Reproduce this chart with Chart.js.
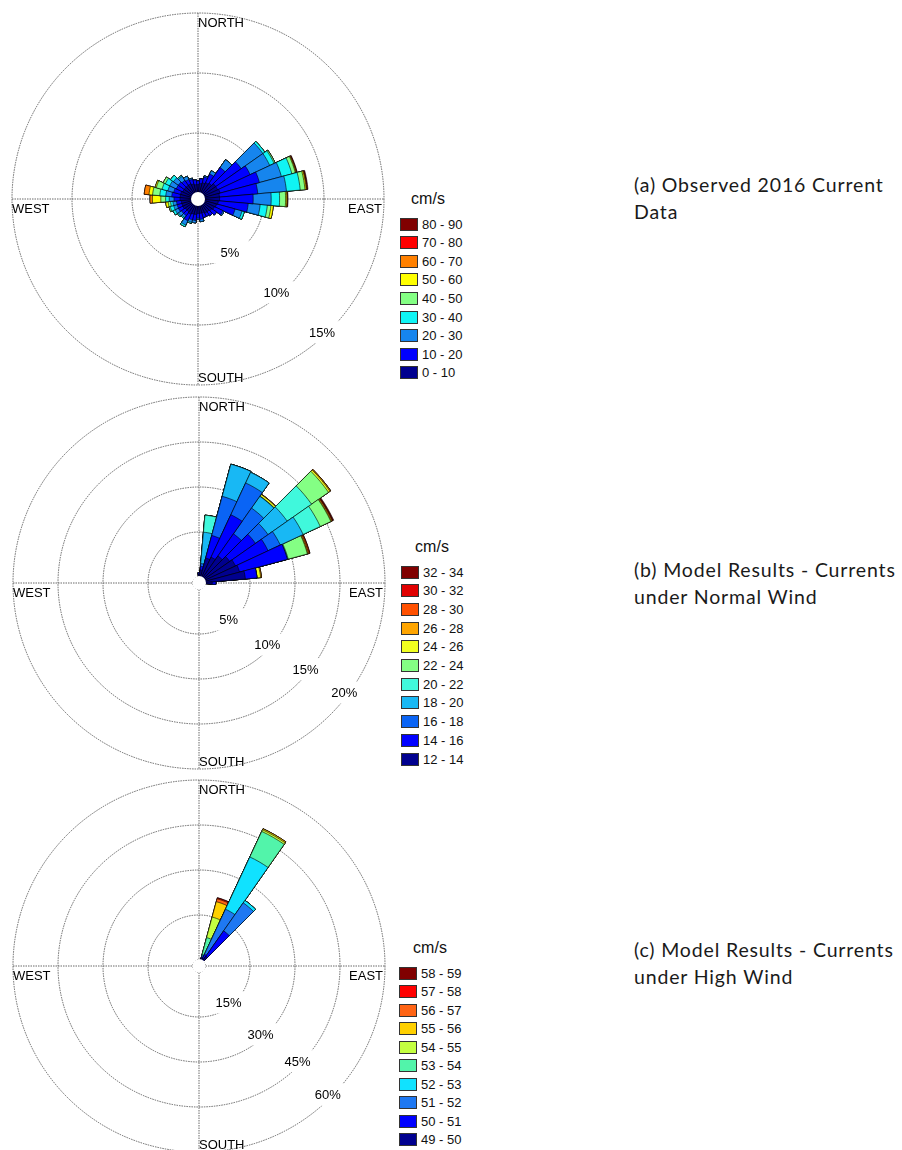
<!DOCTYPE html>
<html>
<head>
<meta charset="utf-8">
<script src="https://cdn.jsdelivr.net/npm/chart.js@4.4.1/dist/chart.umd.min.js"></script>
<style>
    body { margin: 0; background: #fff; width: 902px; height: 1150px; position: relative; overflow: hidden;
           font-family: "Liberation Sans", Arial, sans-serif; }
    .rose { position: absolute; width: 390px; height: 390px; }
    .unit { position: absolute; font-size: 16px; color: #111; transform: translate(-50%, -50%); }
    .row { position: absolute; height: 14px; display: flex; align-items: center; font-size: 13px; color: #111;
           transform: translateY(-50%); white-space: nowrap; }
    .sw { width: 16px; height: 11px; border: 1px solid #333; margin-right: 4px; }
    .caption { position: absolute; left: 634px; font-family: Lato, "Open Sans", sans-serif; font-size: 19.5px;
               letter-spacing: 0.85px; line-height: 27px; color: #1a1a1a; white-space: nowrap; }
</style>
</head>
<body>

<canvas id="roseA" class="rose" width="390" height="390" style="left:3px;top:4px"></canvas>
<canvas id="roseB" class="rose" width="390" height="390" style="left:4px;top:388px"></canvas>
<canvas id="roseC" class="rose" width="390" height="390" style="left:4px;top:771px"></canvas>

<div class="caption" style="top:171px">(a) Observed 2016 Current<br>Data</div>
<div class="caption" style="top:556px">(b) Model Results - Currents<br>under Normal Wind</div>
<div class="caption" style="top:936px">(c) Model Results - Currents<br>under High Wind</div>

<script>
// direction bins (10 degree sectors, clockwise from north)
const directionLabels = ['0°', '10°', '20°', '30°', '40°', '50°', '60°', '70°', '80°', '90°',
    '100°', '110°', '120°', '130°', '140°', '150°', '160°', '170°', '180°', '190°',
    '200°', '210°', '220°', '230°', '240°', '250°', '260°', '270°', '280°', '290°',
    '300°', '310°', '320°', '330°', '340°', '350°'];

// (a) observed 2016 - % of time per direction, split by speed class (slow -> fast)
const obsClasses = ['0 - 10', '10 - 20', '20 - 30', '30 - 40', '40 - 50', '50 - 60', '60 - 70', '70 - 80', '80 - 90'];
const obsColors = ['#00008f', '#0000ff', '#1685ee', '#10f4f4', '#84ff84', '#ffff00', '#ff8000', '#ff0000', '#800000'];
const obsRings = [5, 10, 15];
const obsRows = [
    [0.7, 0.3], [0.8, 0.4], [0.9, 0.5, 0.1], [1.0, 0.8, 0.3], [1.1, 1.6, 0.8],
    [1.3, 2.6, 2.2, 0.2], [1.3, 3.0, 1.8, 0.4, 0.1],
    [1.4, 3.4, 1.9, 0.9, 0.3, 0.05, 0.05, 0.02, 0.05],
    [1.3, 3.2, 2.4, 1.15, 0.4, 0.1, 0.05, 0.03, 0.07],
    [1.3, 2.8, 1.5, 0.7, 0.5, 0.1, 0.05, 0.02, 0.03],
    [1.2, 2.5, 1.0, 0.6, 0.3, 0.2], [1.1, 1.6, 0.6, 0.2], [1.0, 0.8, 0.1],
    [0.9, 0.5], [0.8, 0.4], [0.8, 0.3], [0.7, 0.4], [0.7, 0.5, 0.2], [0.7, 0.4, 0.1],
    [0.8, 0.5, 0.2], [0.8, 0.5, 0.2, 0.1], [0.9, 0.6, 0.4, 0.15], [0.8, 0.4, 0.2, 0.1],
    [0.8, 0.4, 0.3, 0.1], [0.9, 0.4, 0.3, 0.2], [0.9, 0.4, 0.3, 0.3, 0.1],
    [0.9, 0.4, 0.3, 0.2, 0.2, 0.2], [1.0, 0.5, 0.4, 0.3, 0.4, 0.7, 0.2],
    [1.0, 0.7, 0.5, 0.5, 0.6, 0.3, 0.4], [1.0, 0.6, 0.5, 0.5, 0.5, 0.1],
    [0.9, 0.6, 0.6, 0.4, 0.2], [0.9, 0.6, 0.5, 0.3], [0.9, 0.5, 0.4, 0.1],
    [0.9, 0.4, 0.3], [0.8, 0.4, 0.1], [0.7, 0.4]
];

// (b) model, normal wind
const normClasses = ['12 - 14', '14 - 16', '16 - 18', '18 - 20', '20 - 22', '22 - 24', '24 - 26', '26 - 28', '28 - 30', '30 - 32', '32 - 34'];
const normColors = ['#00008f', '#0000ff', '#0a64f5', '#18b8f4', '#40f8dc', '#84ff84', '#f0ff20', '#ffa500', '#ff5000', '#e00000', '#800000'];
const normRings = [5, 10, 15, 20];
const normRows = [
    [0.3, 0.2], [0.8, 0.4, 0.3, 3.5, 1.9], [2.2, 2.6, 4.5, 3.7], [2.5, 5.2, 3.9, 1.3],
    [3.0, 3.0, 3.5, 1.6, 0, 0.05, 0.2, 0.05],
    [3.5, 3.5, 1.7, 2.6, 3.3, 2.3, 0.2, 0.1],
    [3.8, 4.0, 1.5, 2.8, 2.1, 1.3, 0.05, 0.1, 0.05, 0.05, 0.1],
    [4.0, 5.5, 0, 0, 0.1, 2.2, 0.05, 0.1, 0.1, 0.05],
    [4.5, 1.3, 0, 0, 0, 0, 0.4, 0.1],
    [0.8, 0.4],
    [], [], [], [], [], [], [], [], [], [], [], [], [], [], [], [], [], [], [], [], [], [], [], [], [], []
];

// (c) model, high wind
const highClasses = ['49 - 50', '50 - 51', '51 - 52', '52 - 53', '53 - 54', '54 - 55', '55 - 56', '56 - 57', '57 - 58', '58 - 59'];
const highColors = ['#00008f', '#0000ff', '#1e78f2', '#10e2ff', '#52f4aa', '#c4ff40', '#ffd000', '#ff6414', '#ff0000', '#800000'];
const highRings = [15, 30, 45, 60];
const highRows = [
    [], [],
    [0.5, 0.5, 0.5, 0.4, 5.9, 7.1, 5.3, 1.0, 0.3, 0.1],
    [0.8, 1.5, 16.6, 19.2, 9.4, 0.6, 0.4],
    [2.0, 10.3, 11.4, 1.0],
    [], [], [], [], [], [], [], [], [], [], [], [], [], [], [], [], [], [], [], [], [], [], [], [], [], [], [], [], [], [], []
];

const panels = [
    { id: 'roseA', classes: obsClasses, colors: obsColors, rows: obsRows, rings: obsRings, min: -0.5,
      labelAngles: [149, 140, 137], legend: { x: 400, unitX: 428, unitY: 199, rowY: 224, step: 18.6 } },
    { id: 'roseB', classes: normClasses, colors: normColors, rows: normRows, rings: normRings, min: -2 / 3,
      labelAngles: [141, 132, 129, 127], legend: { x: 401, unitX: 432, unitY: 547, rowY: 572, step: 18.7 } },
    { id: 'roseC', classes: highClasses, colors: highColors, rows: highRows, rings: highRings, min: -2,
      labelAngles: [141, 138, 134, 135], legend: { x: 399, unitX: 430, unitY: 948, rowY: 973, step: 18.5 } }
];

// grid cross, compass words, ring labels and the empty centre
const roseDecor = {
    id: 'roseDecor',
    beforeDatasetsDraw(chart, args, opts) {
        const s = chart.scales.r;
        const ctx = chart.ctx;
        const cx = s.xCenter, cy = s.yCenter, R = s.drawingArea;
        ctx.save();
        ctx.strokeStyle = '#444';
        ctx.lineWidth = 0.8;
        ctx.setLineDash([1.5, 1]);
        ctx.beginPath();
        ctx.moveTo(cx - R, cy); ctx.lineTo(cx + R, cy);
        ctx.moveTo(cx, cy - R); ctx.lineTo(cx, cy + R);
        ctx.stroke();
        ctx.setLineDash([]);

        ctx.font = '13px "Liberation Sans", Arial, sans-serif';
        ctx.fillStyle = '#000';
        ctx.textBaseline = 'alphabetic';
        ctx.textAlign = 'left';
        ctx.fillText('NORTH', cx, cy - R + 14);
        ctx.fillText('SOUTH', cx, cy + R - 3);
        ctx.fillText('WEST', cx - R, cy + 14);
        ctx.textAlign = 'right';
        ctx.fillText('EAST', cx + R - 2, cy + 14);

        ctx.textAlign = 'center';
        ctx.textBaseline = 'middle';
        opts.rings.forEach((v, i) => {
            const a = opts.labelAngles[i] * Math.PI / 180;
            const d = s.getDistanceFromCenterForValue(v) - 4;
            const x = cx + d * Math.sin(a);
            const y = cy - d * Math.cos(a);
            const txt = v + '%';
            const w = ctx.measureText(txt).width;
            ctx.fillStyle = '#fff';
            ctx.fillRect(x - w / 2 - 10, y - 11, w + 20, 22);
            ctx.fillStyle = '#000';
            ctx.fillText(txt, x, y + 1);
        });
        ctx.restore();
    },
    afterDatasetsDraw(chart) {
        const s = chart.scales.r;
        const ctx = chart.ctx;
        ctx.save();
        ctx.fillStyle = '#fff';
        ctx.beginPath();
        ctx.arc(s.xCenter, s.yCenter, s.getDistanceFromCenterForValue(0) + 1, 0, Math.PI * 2);
        ctx.fill();
        ctx.restore();
    }
};

function cumulative(rows, k) {
    return rows.map(r => r.slice(0, k + 1).reduce((a, b) => a + b, 0));
}

function showRose(p) {
    const ctx = document.getElementById(p.id);

    // one dataset per speed class, each holding the running total, slowest drawn on top
    const datasets = p.classes.map((name, k) => ({
        label: name,
        data: cumulative(p.rows, k),
        backgroundColor: p.colors[k],
        borderColor: '#000',
        borderWidth: 0.6
    }));

    const options = {
        responsive: false,
        animation: false,
        events: [],
        layout: { padding: 9 },
        plugins: {
            legend: { display: false },
            tooltip: { enabled: false },
            roseDecor: { rings: p.rings, labelAngles: p.labelAngles }
        },
        scales: {
            r: {
                min: p.min,
                max: p.rings[p.rings.length - 1],
                startAngle: -5,
                afterBuildTicks: s => { s.ticks = [p.min].concat(p.rings).map(v => ({ value: v })); },
                ticks: { display: false },
                grid: { color: '#444', lineWidth: 0.8, circular: true },
                border: { dash: [1.5, 1] },
                angleLines: { display: false },
                pointLabels: { display: false }
            }
        }
    };

    new Chart(ctx, {
        type: 'polarArea',
        data: { labels: directionLabels, datasets: datasets },
        options: options,
        plugins: [roseDecor]
    });

    // colour key, fastest class at the top
    const lg = p.legend;
    const unit = document.createElement('div');
    unit.className = 'unit';
    unit.textContent = 'cm/s';
    unit.style.left = lg.unitX + 'px';
    unit.style.top = lg.unitY + 'px';
    document.body.appendChild(unit);

    p.classes.slice().reverse().forEach((name, i) => {
        const row = document.createElement('div');
        row.className = 'row';
        row.style.left = lg.x + 'px';
        row.style.top = (lg.rowY + i * lg.step) + 'px';
        const sw = document.createElement('span');
        sw.className = 'sw';
        sw.style.background = p.colors[p.classes.length - 1 - i];
        row.appendChild(sw);
        row.appendChild(document.createTextNode(name));
        document.body.appendChild(row);
    });
}

panels.forEach(showRose);
</script>
</body>
</html>
